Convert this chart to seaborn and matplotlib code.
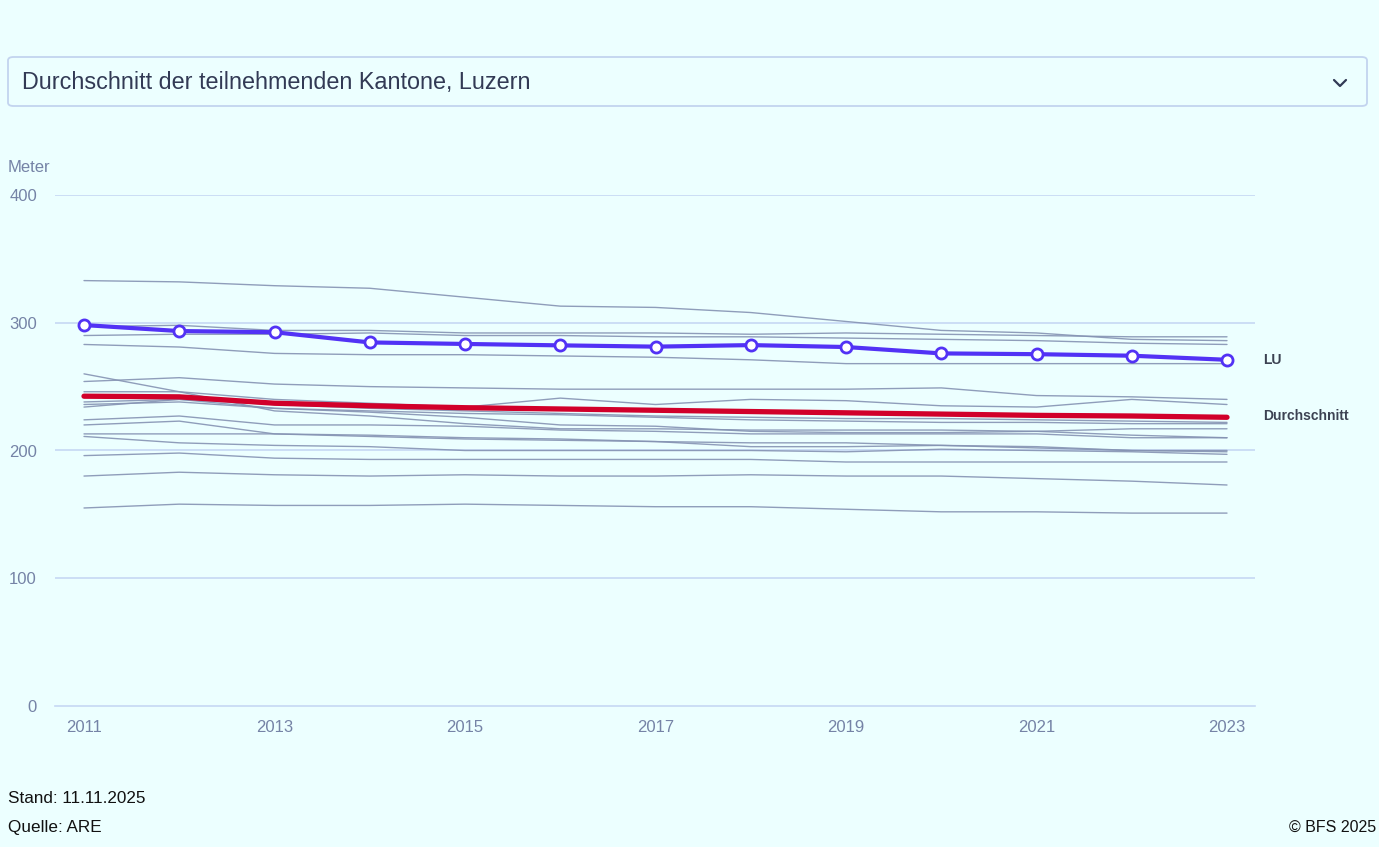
import matplotlib
matplotlib.use("Agg")
import matplotlib.pyplot as plt
from matplotlib.patches import FancyBboxPatch
from matplotlib.lines import Line2D
import seaborn as sns
import pandas as pd

# ---------------- data ----------------
years = list(range(2011, 2024))

lu_values = [298.2, 293.5, 292.6, 284.6, 283.4, 282.3, 281.3, 282.5, 281.0, 276.0, 275.4, 274.2, 271.0]
avg_values = [242.5, 242.0, 237.0, 235.0, 233.5, 232.5, 231.5, 230.5, 229.5, 228.5, 227.5, 227.0, 226.0]

canton_a = [333, 332, 329, 327, 320, 313, 312, 308, 301, 294, 292, 287, 286]
canton_b = [297, 298, 294, 294, 292, 292, 292, 291, 292, 291, 290, 289, 289]
canton_c = [290, 291, 291, 292, 290, 290, 289, 289, 288, 287, 286, 284, 283]
canton_d = [283, 281, 276, 275, 275, 274, 273, 271, 268, 268, 268, 268, 268]
canton_e = [254, 257, 252, 250, 249, 248, 248, 248, 248, 249, 243, 242, 240]
canton_f = [246, 246, 240, 237, 234, 241, 236, 240, 239, 235, 234, 240, 236]
canton_g = [260, 246, 231, 227, 221, 217, 217, 216, 216, 216, 215, 217, 217]
canton_h = [238, 240, 236, 233, 231, 229, 227, 226, 225, 225, 224, 223, 222]
canton_i = [236, 238, 233, 231, 229, 228, 226, 224, 223, 222, 222, 221, 221]
canton_j = [234, 240, 233, 230, 226, 220, 219, 215, 214, 214, 215, 212, 210]
canton_k = [224, 227, 220, 220, 219, 216, 215, 213, 213, 213, 213, 210, 210]
canton_l = [220, 223, 213, 211, 209, 208, 207, 203, 203, 204, 202, 200, 200]
canton_m = [213, 213, 213, 212, 210, 209, 207, 206, 206, 204, 203, 200, 199]
canton_n = [211, 206, 204, 203, 200, 200, 200, 200, 199, 201, 200, 199, 197]
canton_o = [196, 198, 194, 193, 193, 193, 193, 193, 191, 191, 191, 191, 191]
canton_p = [180, 183, 181, 180, 181, 180, 180, 181, 180, 180, 178, 176, 173]
canton_q = [155, 158, 157, 157, 158, 157, 156, 156, 154, 152, 152, 151, 151]

background = {
    "A": canton_a, "B": canton_b, "C": canton_c, "D": canton_d, "E": canton_e,
    "F": canton_f, "G": canton_g, "H": canton_h, "I": canton_i, "J": canton_j,
    "K": canton_k, "L": canton_l, "M": canton_m, "N": canton_n, "O": canton_o,
    "P": canton_p, "Q": canton_q,
}

x_ticks = [2011, 2013, 2015, 2017, 2019, 2021, 2023]
y_ticks = [0, 100, 200, 300, 400]

title_text = "Durchschnitt der teilnehmenden Kantone, Luzern"
y_label = "Meter"
footer_left = ["Stand: 11.11.2025", "Quelle: ARE"]
footer_right = "© BFS 2025"

# ---------------- build frames ----------------
rows = []
for k, vals in background.items():
    for yr, v in zip(years, vals):
        rows.append({"Kanton": k, "Jahr": yr, "Wert": v})
df_bg = pd.DataFrame(rows)
df_lu = pd.DataFrame({"Jahr": years, "Wert": lu_values})
df_avg = pd.DataFrame({"Jahr": years, "Wert": avg_values})

# ---------------- style ----------------
BG = "#ecffff"
GRID = "#c6d8f4"
TICKC = "#7583a6"
sns.set_theme(style="white")
plt.rcParams["font.family"] = ["Liberation Sans", "DejaVu Sans"]

W, H = 1379, 847
fig = plt.figure(figsize=(W / 100, H / 100), dpi=100, facecolor=BG)

ax_left, ax_right = 55, 1255
ax_top, ax_bottom = 195, 706
ax = fig.add_axes([ax_left / W, 1 - ax_bottom / H, (ax_right - ax_left) / W, (ax_bottom - ax_top) / H])
ax.set_facecolor(BG)

sns.lineplot(data=df_bg, x="Jahr", y="Wert", units="Kanton", estimator=None,
             color="#8593b3", linewidth=1.0, alpha=0.9, ax=ax, legend=False, zorder=2)
sns.lineplot(data=df_avg, x="Jahr", y="Wert", color="#d1002a", linewidth=3.8,
             ax=ax, legend=False, zorder=3)
sns.lineplot(data=df_lu, x="Jahr", y="Wert", color="#5232f5", linewidth=3.0,
             marker="o", markersize=8, markerfacecolor="white",
             markeredgecolor="#5232f5", markeredgewidth=2.0,
             ax=ax, legend=False, zorder=4)

ax.set_xlim(2011 - 29 / 95.25, 2023 + 28 / 95.25)
ax.set_ylim(0, 400)
ax.set_xticks(x_ticks)
ax.set_yticks(y_ticks)
ax.set_xlabel("")
ax.set_ylabel("")
for s in ["top", "right", "left"]:
    ax.spines[s].set_visible(False)
ax.spines["bottom"].set_color(GRID)
ax.spines["bottom"].set_linewidth(1.2)
for yv in y_ticks[1:]:
    ax.axhline(yv, color=GRID, linewidth=1.2, zorder=1)
ax.tick_params(axis="x", colors=GRID, length=6, width=1, labelcolor=TICKC,
               labelsize=12, pad=4)
ax.tick_params(axis="y", length=0, labelcolor=TICKC, labelsize=12, pad=13)

# end labels
ax.text(2023 + 36 / 95.25, lu_values[-1], "LU", fontsize=10, fontweight="bold",
        color="#3c4252", va="center", ha="left")
ax.text(2023 + 36 / 95.25, avg_values[-1] + 1, "Durchschnitt", fontsize=10,
        fontweight="bold", color="#3c4252", va="center", ha="left")

# y axis title
fig.text(8 / W, 1 - 167 / H, y_label, fontsize=12, color=TICKC, ha="left", va="center")

# dropdown box
box = FancyBboxPatch((8 / W, 1 - 106 / H), (1367 - 8) / W, 49 / H,
                     boxstyle="round,pad=0,rounding_size=0.004",
                     transform=fig.transFigure, facecolor=BG,
                     edgecolor="#c3d4ef", linewidth=1.3)
fig.patches.append(box)
fig.text(22 / W, 1 - 83 / H, title_text, fontsize=16.8, color="#323a55",
         ha="left", va="center")
fig.lines.append(Line2D([1334 / W, 1340 / W, 1346 / W],
                        [1 - 80 / H, 1 - 86 / H, 1 - 80 / H],
                        transform=fig.transFigure, color="#323a55", linewidth=1.6))

# footer
fig.text(8 / W, 1 - 798 / H, footer_left[0], fontsize=12.3, color="#111111", ha="left", va="center")
fig.text(8 / W, 1 - 827 / H, footer_left[1], fontsize=12.3, color="#111111", ha="left", va="center")
fig.text(1376 / W, 1 - 827 / H, footer_right, fontsize=11.5, color="#111111", ha="right", va="center")

fig.savefig("out.png", dpi=100, facecolor=BG)
